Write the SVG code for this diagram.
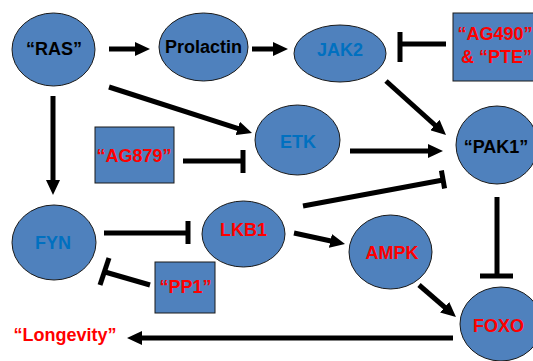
<svg xmlns="http://www.w3.org/2000/svg" width="533" height="361" viewBox="0 0 533 361">
<style>
.n{fill:#4F81BD;stroke:#1a1a1a;stroke-width:1}
.t{font-family:"Liberation Sans",Arial,sans-serif;font-weight:bold;font-size:18px;text-anchor:middle}
.k{fill:#000}
.r{fill:#FF0000}
.b{fill:#0070C0}
.c{stroke:#000;stroke-width:5;fill:none}
.a{marker-end:url(#ah)}
</style>
<defs>
<marker id="ah" viewBox="0 0 15 14" refX="3" refY="7" markerWidth="15" markerHeight="14" markerUnits="userSpaceOnUse" orient="auto">
<path d="M0,0 L15,7 L0,14 z" fill="#000"/>
</marker>
</defs>
<rect width="533" height="361" fill="#fff"/>
<g id="connectors">
<line class="c a" x1="109" y1="49" x2="138" y2="49"/>
<line class="c a" x1="252" y1="49" x2="276" y2="49"/>
<line class="c" x1="446" y1="44" x2="400" y2="44"/>
<line class="c" x1="400" y1="32" x2="400" y2="62"/>
<line class="c a" x1="109" y1="87" x2="240.6" y2="129.3"/>
<line class="c" x1="183" y1="161" x2="243" y2="161"/>
<line class="c" x1="243" y1="150" x2="243" y2="173"/>
<line class="c a" x1="386" y1="81" x2="437.1" y2="127"/>
<line class="c a" x1="350" y1="151" x2="431" y2="151"/>
<line class="c" x1="303" y1="206" x2="443" y2="180"/>
<line class="c" x1="441.4" y1="170.5" x2="444.6" y2="188.5"/>
<line class="c a" x1="53" y1="96" x2="53" y2="183"/>
<line class="c" x1="104" y1="233" x2="188" y2="233"/>
<line class="c" x1="188" y1="221" x2="188" y2="244"/>
<line class="c" x1="150" y1="285" x2="105" y2="272"/>
<line class="c" x1="109" y1="258" x2="100" y2="285"/>
<line class="c a" x1="294" y1="233" x2="333.3" y2="241.5"/>
<line class="c" x1="497" y1="197" x2="497" y2="276"/>
<line class="c" x1="480" y1="276" x2="513" y2="276"/>
<line class="c a" x1="419" y1="285" x2="446.9" y2="309.2"/>
<line class="c a" x1="453" y1="338" x2="139" y2="338"/>
</g>
<g id="RAS"><ellipse class="n" cx="53.5" cy="49.5" rx="41.5" ry="36.5"/><text class="t k" x="54" y="55">“RAS”</text></g>
<g id="Prolactin"><ellipse class="n" cx="203.5" cy="47" rx="44.5" ry="34"/><text class="t k" x="203.5" y="53">Prolactin</text></g>
<g id="JAK2"><ellipse class="n" cx="340" cy="53.5" rx="46" ry="28.5"/><text class="t b" x="340" y="56">JAK2</text></g>
<g id="AG490"><rect class="n" x="453" y="13" width="92" height="68"/><text class="t r" x="495" y="40">“AG490”</text><text class="t r" x="496.5" y="63">&amp; “PTE”</text></g>
<g id="ETK"><ellipse class="n" cx="297.5" cy="140" rx="42.5" ry="35"/><text class="t b" x="298" y="148">ETK</text></g>
<g id="PAK1"><ellipse class="n" cx="497" cy="145" rx="41" ry="39"/><text class="t k" x="496" y="153">“PAK1”</text></g>
<g id="AG879"><rect class="n" x="95" y="127" width="79" height="56"/><text class="t r" x="134" y="162">“AG879”</text></g>
<g id="FYN"><ellipse class="n" cx="54" cy="242.5" rx="42" ry="37.5"/><text class="t b" x="53" y="249">FYN</text></g>
<g id="LKB1"><ellipse class="n" cx="243.5" cy="234" rx="41.5" ry="33"/><text class="t r" x="243.5" y="236">LKB1</text></g>
<g id="PP1"><rect class="n" x="155" y="262" width="60" height="51"/><text class="t r" x="185.5" y="293">“PP1”</text></g>
<g id="AMPK"><ellipse class="n" cx="390.5" cy="252" rx="41.5" ry="37"/><text class="t r" x="392" y="259">AMPK</text></g>
<g id="FOXO"><ellipse class="n" cx="501" cy="324" rx="41" ry="37"/><text class="t r" x="498.5" y="332">FOXO</text></g>
<g id="Longevity"><text class="t r" x="65" y="341">“Longevity”</text></g>
</svg>
